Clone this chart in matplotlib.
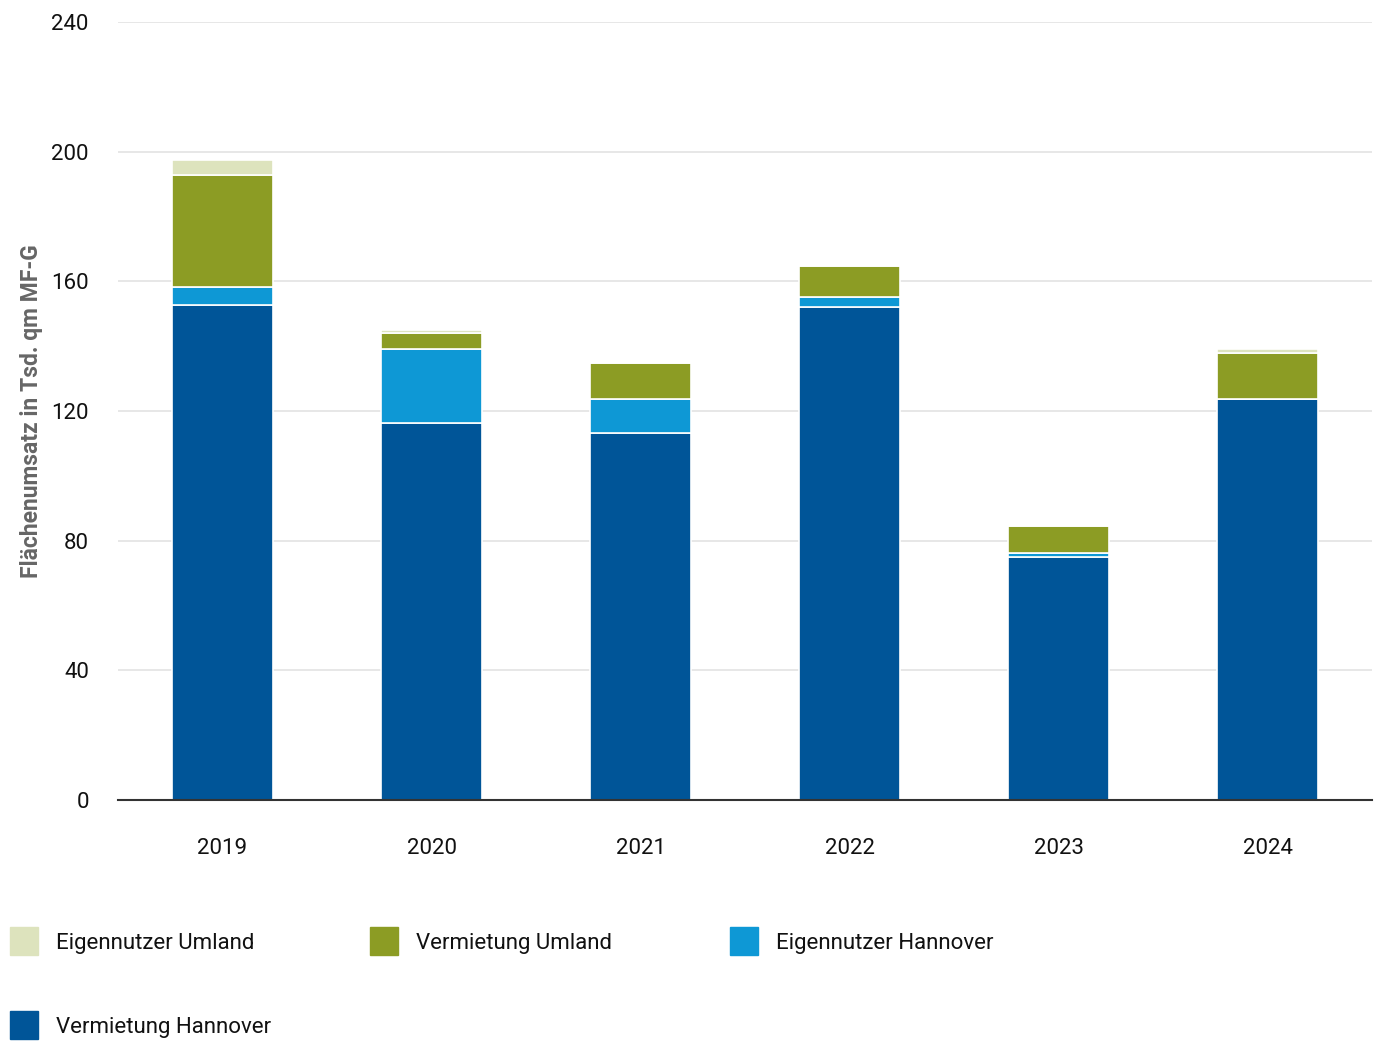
import matplotlib.pyplot as plt
from matplotlib.patches import Rectangle

plt.rcParams['font.family'] = ['Roboto', 'DejaVu Sans']

years = ['2019', '2020', '2021', '2022', '2023', '2024']
vermietung_hannover = [152.7, 116.2, 113.1, 152.0, 75.0, 123.6]
eigennutzer_hannover = [5.6, 22.8, 10.5, 3.1, 1.1, 0.2]
vermietung_umland = [34.5, 4.9, 11.1, 9.7, 8.5, 14.2]
eigennutzer_umland = [4.6, 1.1, 0.0, 0.0, 0.0, 1.0]

series = [
    ('Vermietung Hannover', vermietung_hannover, '#005598'),
    ('Eigennutzer Hannover', eigennutzer_hannover, '#0e98d5'),
    ('Vermietung Umland', vermietung_umland, '#8c9c24'),
    ('Eigennutzer Umland', eigennutzer_umland, '#dde3bd'),
]

fig = plt.figure(figsize=(13.77, 10.44), dpi=100)
ax = fig.add_axes([0.0857, 0.2337, 0.9108, 0.7453])

x = range(len(years))
bottom = [0.0] * len(years)
for name, vals, col in series:
    ax.bar(x, vals, bottom=bottom, width=0.48, color=col,
           edgecolor='white', linewidth=1.2, zorder=3)
    bottom = [b + v for b, v in zip(bottom, vals)]

ax.set_xlim(-0.5, 5.5)
ax.set_ylim(0, 240)
ax.set_yticks([0, 40, 80, 120, 160, 200, 240])
ax.set_xticks(list(x))
ax.set_xticklabels(years)
ax.tick_params(axis='both', length=0, labelsize=16, colors='#111111')
ax.tick_params(axis='y', pad=21)
ax.tick_params(axis='x', pad=27)
ax.grid(axis='y', color='#e3e3e3', linewidth=1.2, zorder=0)
for s in ['top', 'right', 'left']:
    ax.spines[s].set_visible(False)
ax.spines['bottom'].set_color('#333333')
ax.spines['bottom'].set_linewidth(1.5)
ax.spines['bottom'].set_zorder(4)

fig.text(0.023, 0.606, 'Flächenumsatz in Tsd. qm MF-G', rotation=90,
         ha='center', va='center', fontsize=16.5, fontweight='bold', color='#666666')

# legend, row-wise like the original
legend_items = [series[3], series[2], series[1], series[0]]
positions = [(10, 941), (370, 941), (730, 941), (10, 1025)]
W, H = 1377, 1044
for (name, vals, col), (px, py) in zip(legend_items, positions):
    fig.add_artist(Rectangle((px / W, 1 - (py + 14) / H), 28 / W, 28 / H,
                             transform=fig.transFigure, color=col))
    fig.text((px + 46) / W, 1 - (py + 3) / H, name, fontsize=16,
             va='center', ha='left', color='#111111')

plt.savefig('out.png')
